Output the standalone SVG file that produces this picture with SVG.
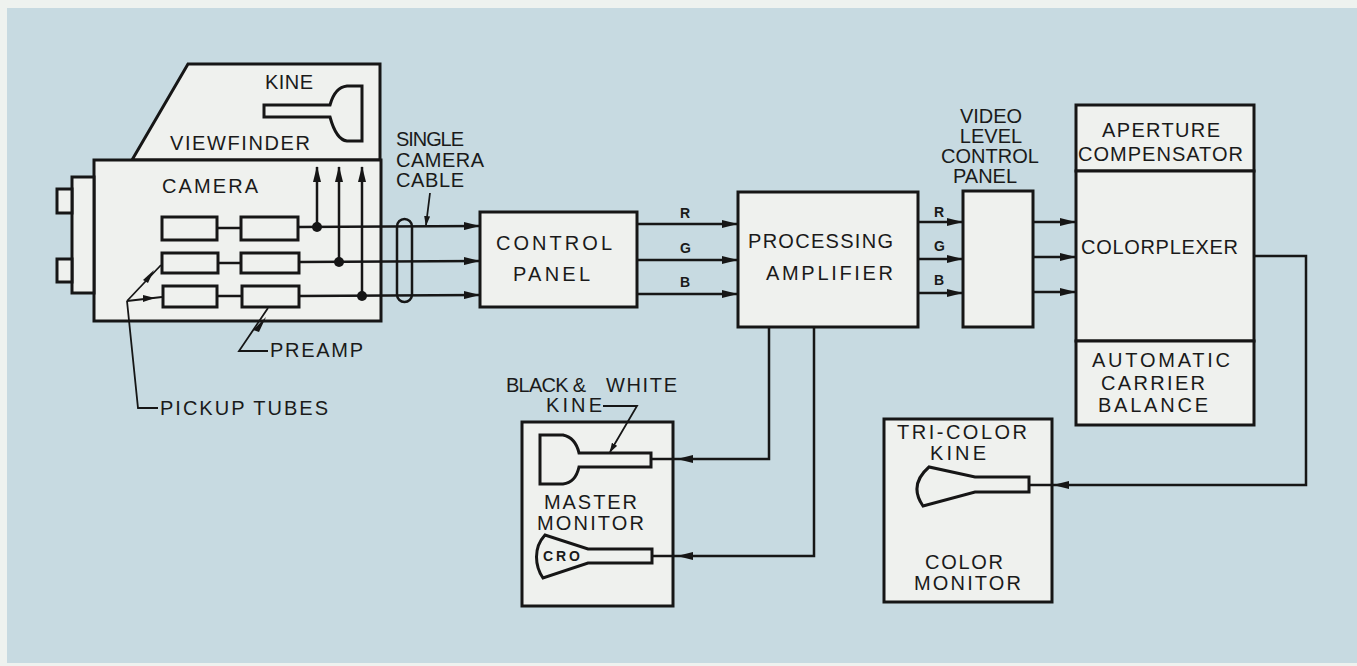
<svg xmlns="http://www.w3.org/2000/svg" width="1357" height="666" viewBox="0 0 1357 666">
<defs>
<style>
.box{fill:#eff1ee;stroke:#161616;stroke-width:3}
.ln{fill:none;stroke:#161616;stroke-width:2.5}
.thin{fill:none;stroke:#161616;stroke-width:1.8}
.t{font-family:"Liberation Sans",Arial,sans-serif;font-size:20px;fill:#1a1a1a}
.s{font-family:"Liberation Sans",Arial,sans-serif;font-size:14px;font-weight:bold;fill:#1a1a1a}
.c{text-anchor:middle}
</style>
<marker id="arr" viewBox="0 0 16 8" refX="15" refY="4" markerWidth="16" markerHeight="8" markerUnits="userSpaceOnUse" orient="auto">
<path d="M0,0 L16,4 L0,8 Z" fill="#161616"/>
</marker>
<marker id="arrs" viewBox="0 0 10 6" refX="9" refY="3" markerWidth="10" markerHeight="6" markerUnits="userSpaceOnUse" orient="auto">
<path d="M0,0 L10,3 L0,6 Z" fill="#161616"/>
</marker>
</defs>
<rect x="0" y="0" width="1357" height="666" fill="#eef2ef"/>
<rect x="7" y="8" width="1350" height="655" fill="#c7dae1"/>

<g id="camera">
<polygon class="box" points="188,64 380,64 380,160 132,160"/>
<rect class="box" x="94" y="160" width="287" height="161"/>
<rect class="box" x="72" y="177" width="22" height="116"/>
<rect class="box" x="57" y="189" width="15" height="24"/>
<rect class="box" x="57" y="259" width="15" height="23"/>
<path class="box" d="M264,105 H330 C333,94 338,87 347,86 H362 V141 H347 C338,140 333,128 330,117 H264 Z"/>
<text class="t" x="265" y="89" textLength="48" lengthAdjust="spacing">KINE</text>
<text class="t" x="170" y="150" textLength="140" lengthAdjust="spacing">VIEWFINDER</text>
<text class="t" x="162" y="193" textLength="96" lengthAdjust="spacing">CAMERA</text>
<rect class="box" x="162" y="217" width="55" height="23"/>
<rect class="box" x="241" y="217" width="57" height="23"/>
<rect class="box" x="162" y="253" width="56" height="20"/>
<rect class="box" x="241" y="253" width="58" height="20"/>
<rect class="box" x="163" y="286" width="54" height="21"/>
<rect class="box" x="242" y="286" width="57" height="21"/>
</g>

<g id="cable-label">
<text class="t" x="396" y="146" font-size="18" textLength="68" lengthAdjust="spacing">SINGLE</text>
<text class="t" x="396" y="167" font-size="18" textLength="88" lengthAdjust="spacing">CAMERA</text>
<text class="t" x="396" y="187" font-size="18" textLength="68" lengthAdjust="spacing">CABLE</text>
</g>

<g id="preamp-label">
<text class="t" x="270" y="357" font-size="19" textLength="93" lengthAdjust="spacing">PREAMP</text>
</g>
<g id="pickup-label">
<text class="t" x="160" y="415" font-size="19" textLength="168" lengthAdjust="spacing">PICKUP TUBES</text>
</g>

<g id="control-panel">
<rect class="box" x="480" y="212" width="157" height="95"/>
<text class="t" x="496" y="250" font-size="21" textLength="116" lengthAdjust="spacing">CONTROL</text>
<text class="t" x="513" y="281" font-size="21" textLength="77" lengthAdjust="spacing">PANEL</text>
</g>

<g id="processing-amplifier">
<rect class="box" x="738" y="192" width="180" height="135"/>
<text class="t" x="748" y="248" font-size="21" textLength="145" lengthAdjust="spacing">PROCESSING</text>
<text class="t" x="766" y="280" font-size="21" textLength="127" lengthAdjust="spacing">AMPLIFIER</text>
</g>

<g id="video-level-control-panel">
<rect class="box" x="963" y="191" width="70" height="136"/>
<text class="t c" x="991" y="123" font-size="18">VIDEO</text>
<text class="t c" x="991" y="143" font-size="18">LEVEL</text>
<text class="t c" x="990" y="163" font-size="18">CONTROL</text>
<text class="t c" x="985" y="183" font-size="18">PANEL</text>
</g>

<g id="colorplexer">
<rect class="box" x="1076" y="105" width="178" height="66"/>
<rect class="box" x="1076" y="171" width="178" height="170"/>
<rect class="box" x="1076" y="341" width="178" height="84"/>
<text class="t" x="1102" y="137" font-size="19" textLength="118" lengthAdjust="spacing">APERTURE</text>
<text class="t" x="1078" y="161" font-size="19" textLength="165" lengthAdjust="spacing">COMPENSATOR</text>
<text class="t" x="1081" y="254" textLength="157" lengthAdjust="spacing">COLORPLEXER</text>
<text class="t" x="1092" y="367" font-size="19" textLength="138" lengthAdjust="spacing">AUTOMATIC</text>
<text class="t" x="1101" y="390" font-size="19" textLength="104" lengthAdjust="spacing">CARRIER</text>
<text class="t" x="1098" y="412" font-size="19" textLength="110" lengthAdjust="spacing">BALANCE</text>
</g>

<g id="master-monitor">
<rect class="box" x="522" y="422" width="151" height="184"/>
<path class="box" d="M540,435 H563 C572,437 577,444 579,453 H651 V467 H579 C577,476 572,483 563,484 H540 Z"/>
<path class="box" d="M588,549 H652 V563 H588 L543,578 C535,566 533,548 545,535 Z"/>
<text class="s" x="543" y="561" font-size="13" textLength="37" lengthAdjust="spacing">CRO</text>
<text class="t" x="506" y="392" font-size="19" textLength="80" lengthAdjust="spacing">BLACK &amp;</text>
<text class="t" x="606" y="392" font-size="19" textLength="71" lengthAdjust="spacing">WHITE</text>
<text class="t" x="546" y="412" font-size="18" textLength="56" lengthAdjust="spacing">KINE</text>
<text class="t" x="544" y="509" font-size="18" textLength="93" lengthAdjust="spacing">MASTER</text>
<text class="t" x="537" y="530" font-size="18" textLength="107" lengthAdjust="spacing">MONITOR</text>
</g>

<g id="color-monitor">
<rect class="box" x="884" y="419" width="168" height="183"/>
<path class="box" d="M975,477 H1029 V492 H975 L923,506 C914,493 914,480 929,467 Z"/>
<text class="t" x="897" y="439" font-size="18" textLength="130" lengthAdjust="spacing">TRI-COLOR</text>
<text class="t" x="930" y="460" font-size="18" textLength="56" lengthAdjust="spacing">KINE</text>
<text class="t" x="925" y="569" font-size="18" textLength="78" lengthAdjust="spacing">COLOR</text>
<text class="t" x="914" y="590" font-size="18" textLength="107" lengthAdjust="spacing">MONITOR</text>
</g>

<g id="connectors">
<line class="ln" x1="217" y1="228" x2="241" y2="228"/>
<line class="ln" x1="218" y1="263" x2="241" y2="263"/>
<line class="ln" x1="217" y1="296" x2="242" y2="296"/>
<line class="ln" x1="298" y1="227" x2="479" y2="226" marker-end="url(#arr)"/>
<line class="ln" x1="299" y1="262" x2="479" y2="261" marker-end="url(#arr)"/>
<line class="ln" x1="299" y1="296" x2="479" y2="295" marker-end="url(#arr)"/>
<circle cx="317" cy="227" r="5" fill="#161616"/>
<circle cx="339" cy="262" r="5" fill="#161616"/>
<circle cx="362" cy="296" r="5" fill="#161616"/>
<line class="ln" x1="317" y1="227" x2="317" y2="167" marker-end="url(#arr)"/>
<line class="ln" x1="339" y1="262" x2="339" y2="167" marker-end="url(#arr)"/>
<line class="ln" x1="362" y1="296" x2="362" y2="167" marker-end="url(#arr)"/>
<rect x="397" y="219" width="15" height="83" rx="7.5" fill="none" stroke="#161616" stroke-width="2.5"/>
<line class="thin" x1="430" y1="193" x2="426" y2="225" marker-end="url(#arrs)"/>
<polyline class="thin" points="268,351 239,351 268,308"/>
<path d="M253,330 L266,317 L259,332 Z" fill="#161616"/>
<polyline class="thin" points="158,408 138,408 127,301"/>
<line class="thin" x1="127" y1="301" x2="162" y2="297"/>
<line class="thin" x1="127" y1="301" x2="161" y2="265"/>
<path d="M143,295 L155,298 L143,302 Z" fill="#161616"/>
<path d="M143,280 L154,270 L148,283 Z" fill="#161616"/>
<line class="ln" x1="637" y1="224" x2="737" y2="224" marker-end="url(#arr)"/>
<line class="ln" x1="637" y1="260" x2="737" y2="260" marker-end="url(#arr)"/>
<line class="ln" x1="637" y1="294" x2="737" y2="294" marker-end="url(#arr)"/>
<text class="s" x="680" y="218">R</text>
<text class="s" x="680" y="253">G</text>
<text class="s" x="680" y="287">B</text>
<line class="ln" x1="918" y1="222" x2="962" y2="222" marker-end="url(#arr)"/>
<line class="ln" x1="918" y1="259" x2="962" y2="259" marker-end="url(#arr)"/>
<line class="ln" x1="918" y1="293" x2="962" y2="293" marker-end="url(#arr)"/>
<text class="s" x="934" y="217">R</text>
<text class="s" x="934" y="251">G</text>
<text class="s" x="934" y="285">B</text>
<line class="ln" x1="1033" y1="222" x2="1075" y2="222" marker-end="url(#arr)"/>
<line class="ln" x1="1033" y1="257" x2="1075" y2="257" marker-end="url(#arr)"/>
<line class="ln" x1="1033" y1="292" x2="1075" y2="292" marker-end="url(#arr)"/>
<polyline class="ln" points="769,327 769,459 678,459" marker-end="url(#arr)"/>
<line class="ln" x1="678" y1="459" x2="651" y2="459"/>
<polyline class="ln" points="814,327 814,556 678,556" marker-end="url(#arr)"/>
<line class="ln" x1="678" y1="556" x2="652" y2="556"/>
<polyline class="thin" points="603,406 637,406 610,452" marker-end="url(#arrs)"/>
<polyline class="ln" points="1254,256 1306,256 1306,485 1054,485" marker-end="url(#arr)"/>
<line class="ln" x1="1054" y1="485" x2="1029" y2="485"/>
</g>
</svg>
